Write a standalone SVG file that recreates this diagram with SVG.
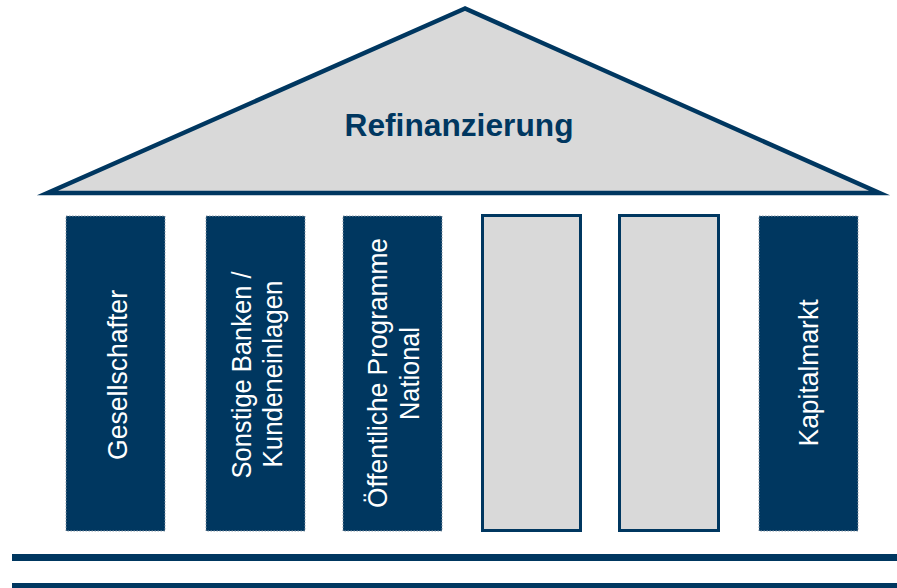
<svg xmlns="http://www.w3.org/2000/svg" width="897" height="588" viewBox="0 0 897 588">
<style>
.roof{fill:#D9D9D9;stroke:#003760;stroke-width:4.5;stroke-linejoin:miter;stroke-miterlimit:10}
.dark{fill:#003760;stroke:#8C9BA8;stroke-width:1;stroke-dasharray:1.5 1.5}
.light{fill:#D9D9D9;stroke:#003760;stroke-width:3}
.lbl{font-family:"Liberation Sans",Arial,sans-serif;font-size:28px;fill:#FFFFFF;text-anchor:middle}
.title{font-family:"Liberation Sans",Arial,sans-serif;font-size:31px;font-weight:bold;fill:#003760;text-anchor:middle}
.base{fill:#003760}
</style>
<g id="roof">
<polygon class="roof" points="465,8.5 47.5,193 879.5,193"/>
<text class="title" x="459" y="136" textLength="229" lengthAdjust="spacingAndGlyphs">Refinanzierung</text>
</g>
<g id="col-gesellschafter">
<rect class="dark" x="66" y="216" width="99" height="315"/>
<text class="lbl" transform="translate(127,375) rotate(-90)" x="0" y="0" textLength="170" lengthAdjust="spacingAndGlyphs">Gesellschafter</text>
</g>
<g id="col-banken">
<rect class="dark" x="206" y="216" width="99" height="315"/>
<text class="lbl" transform="translate(250.5,375) rotate(-90)" x="0" y="0" textLength="207" lengthAdjust="spacingAndGlyphs">Sonstige Banken /</text>
<text class="lbl" transform="translate(282,374) rotate(-90)" x="0" y="0" textLength="187" lengthAdjust="spacingAndGlyphs">Kundeneinlagen</text>
</g>
<g id="col-oeffentlich">
<rect class="dark" x="343" y="216" width="99" height="315"/>
<text class="lbl" transform="translate(387,373) rotate(-90)" x="0" y="0" textLength="270" lengthAdjust="spacingAndGlyphs">Öffentliche Programme</text>
<text class="lbl" transform="translate(419,373.5) rotate(-90)" x="0" y="0" textLength="93" lengthAdjust="spacingAndGlyphs">National</text>
</g>
<g id="col-empty1">
<rect class="light" x="482.5" y="215.5" width="98" height="315"/>
</g>
<g id="col-empty2">
<rect class="light" x="619.5" y="215.5" width="99" height="315"/>
</g>
<g id="col-kapitalmarkt">
<rect class="dark" x="759" y="216" width="99" height="315"/>
<text class="lbl" transform="translate(818,373) rotate(-90)" x="0" y="0" textLength="147" lengthAdjust="spacingAndGlyphs">Kapitalmarkt</text>
</g>
<g id="foundation">
<rect class="base" x="12" y="554" width="885" height="7"/>
<rect class="base" x="12" y="583" width="885" height="6"/>
</g>
</svg>
